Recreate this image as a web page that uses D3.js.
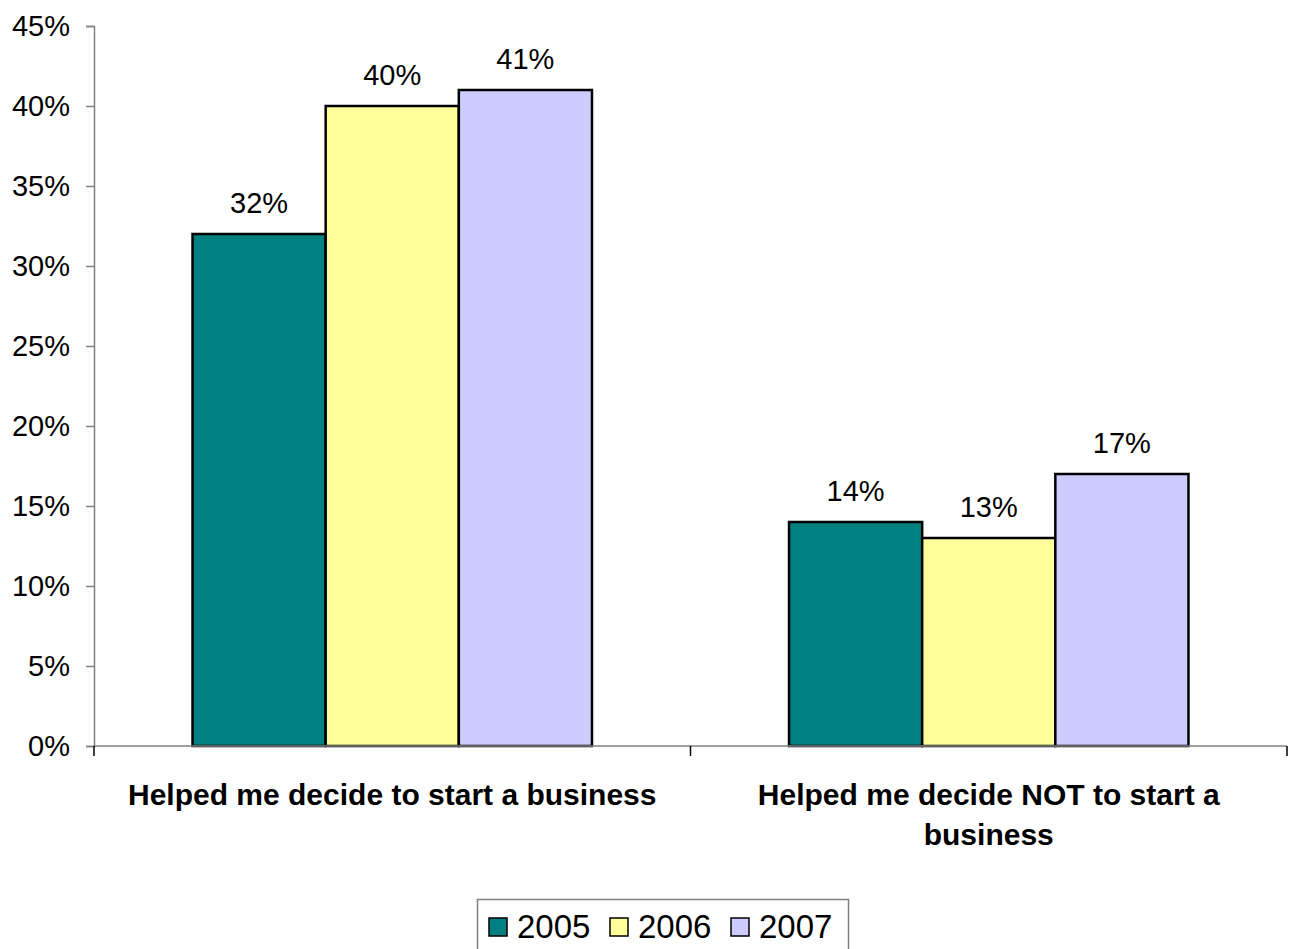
<!DOCTYPE html>
<html>
<head>
<meta charset="utf-8">
<script src="https://cdn.jsdelivr.net/npm/d3@7"></script>
<style>
  html, body { margin: 0; padding: 0; background: #fff; }
  svg { display: block; font-family: "Liberation Sans", Arial, sans-serif; }
</style>
</head>
<body>
<svg id="chart" width="1292" height="949"></svg>
<script>
// Survey outcome categories
const categories = [
  ["Helped me decide to start a business"],
  ["Helped me decide NOT to start a", "business"]
];
const years = ["2005", "2006", "2007"];
const colors = ["#008080", "#FFFF99", "#CCCCFF"];
// Share of respondents (%) per year, per category
const values2005 = [32, 14];
const values2006 = [40, 13];
const values2007 = [41, 17];
const yTicks = [0, 5, 10, 15, 20, 25, 30, 35, 40, 45];

const seriesValues = [values2005, values2006, values2007];
const rows = categories.map((c, i) => ({
  idx: i,
  label: c,
  vals: years.map((y, j) => ({ year: y, color: colors[j], v: seriesValues[j][i] }))
}));

const svg = d3.select("#chart");
const plot = { left: 94, right: 1287, top: 26, bottom: 746 };

const x0 = d3.scaleBand().domain(d3.range(categories.length))
  .range([plot.left, plot.right]).paddingInner(0).paddingOuter(0);
const x1 = d3.scaleBand().domain(years)
  .range([0, x0.bandwidth()]).paddingInner(0).paddingOuter(0.74);
const y = d3.scaleLinear().domain([0, 45]).range([plot.bottom, plot.top]);

// Y axis
const yAxis = svg.append("g")
  .attr("transform", `translate(${plot.left},0)`)
  .call(d3.axisLeft(y).tickValues(yTicks).tickSize(8).tickPadding(16)
    .tickFormat(d => d + "%"));
yAxis.select(".domain").attr("stroke", "#808080").attr("stroke-width", 1.5);
yAxis.selectAll(".tick line").attr("stroke", "#808080").attr("stroke-width", 1.5);
yAxis.selectAll(".tick text").attr("font-size", 29).attr("fill", "#000")
  .attr("font-family", "Liberation Sans, Arial, sans-serif");

// Bars
const groups = svg.append("g").selectAll("g").data(rows).join("g")
  .attr("transform", d => `translate(${x0(d.idx)},0)`);

groups.selectAll("rect").data(d => d.vals).join("rect")
  .attr("x", d => x1(d.year))
  .attr("y", d => y(d.v))
  .attr("width", x1.bandwidth())
  .attr("height", d => y(0) - y(d.v))
  .attr("fill", d => d.color)
  .attr("stroke", "#000")
  .attr("stroke-width", 2.5);

groups.selectAll("text.val").data(d => d.vals).join("text")
  .attr("class", "val")
  .attr("x", d => x1(d.year) + x1.bandwidth() / 2)
  .attr("y", d => y(d.v) - 21)
  .attr("text-anchor", "middle")
  .attr("font-size", 29)
  .text(d => d.v + "%");

// X axis line with category dividers
const xAxis = svg.append("g").attr("transform", `translate(0,${plot.bottom})`);
xAxis.append("line").attr("x1", plot.left).attr("x2", plot.right)
  .attr("stroke", "#808080").attr("stroke-width", 1.5);
const dividers = d3.range(categories.length + 1).map(i =>
  i < categories.length ? x0(i) : x0(i - 1) + x0.bandwidth());
xAxis.selectAll("line.tk").data(dividers).join("line")
  .attr("class", "tk")
  .attr("x1", d => d).attr("x2", d => d)
  .attr("y1", 0).attr("y2", 10)
  .attr("stroke", "#000").attr("stroke-width", 1.5);

// Category labels
const catText = svg.append("g").selectAll("text").data(rows).join("text")
  .attr("x", d => x0(d.idx) + x0.bandwidth() / 2)
  .attr("y", 805)
  .attr("text-anchor", "middle")
  .attr("font-size", 30)
  .attr("font-weight", "bold");
catText.selectAll("tspan").data(d => d.label).join("tspan")
  .attr("x", function () { return d3.select(this.parentNode).attr("x"); })
  .attr("dy", (d, i) => i === 0 ? 0 : 40)
  .text(d => d);

// Legend
const legend = svg.append("g");
legend.append("rect")
  .attr("x", 477.5).attr("y", 899.5).attr("width", 371).attr("height", 70)
  .attr("fill", "#fff").attr("stroke", "#808080").attr("stroke-width", 1.5);
const items = legend.selectAll("g").data(years).join("g")
  .attr("transform", (d, i) => `translate(${489 + i * 121},0)`);
items.append("rect")
  .attr("x", 0).attr("y", 918).attr("width", 18).attr("height", 18)
  .attr("fill", (d, i) => colors[i]).attr("stroke", "#000").attr("stroke-width", 1.5);
items.append("text")
  .attr("x", 28).attr("y", 938)
  .attr("font-size", 33)
  .text(d => d);
</script>
</body>
</html>
